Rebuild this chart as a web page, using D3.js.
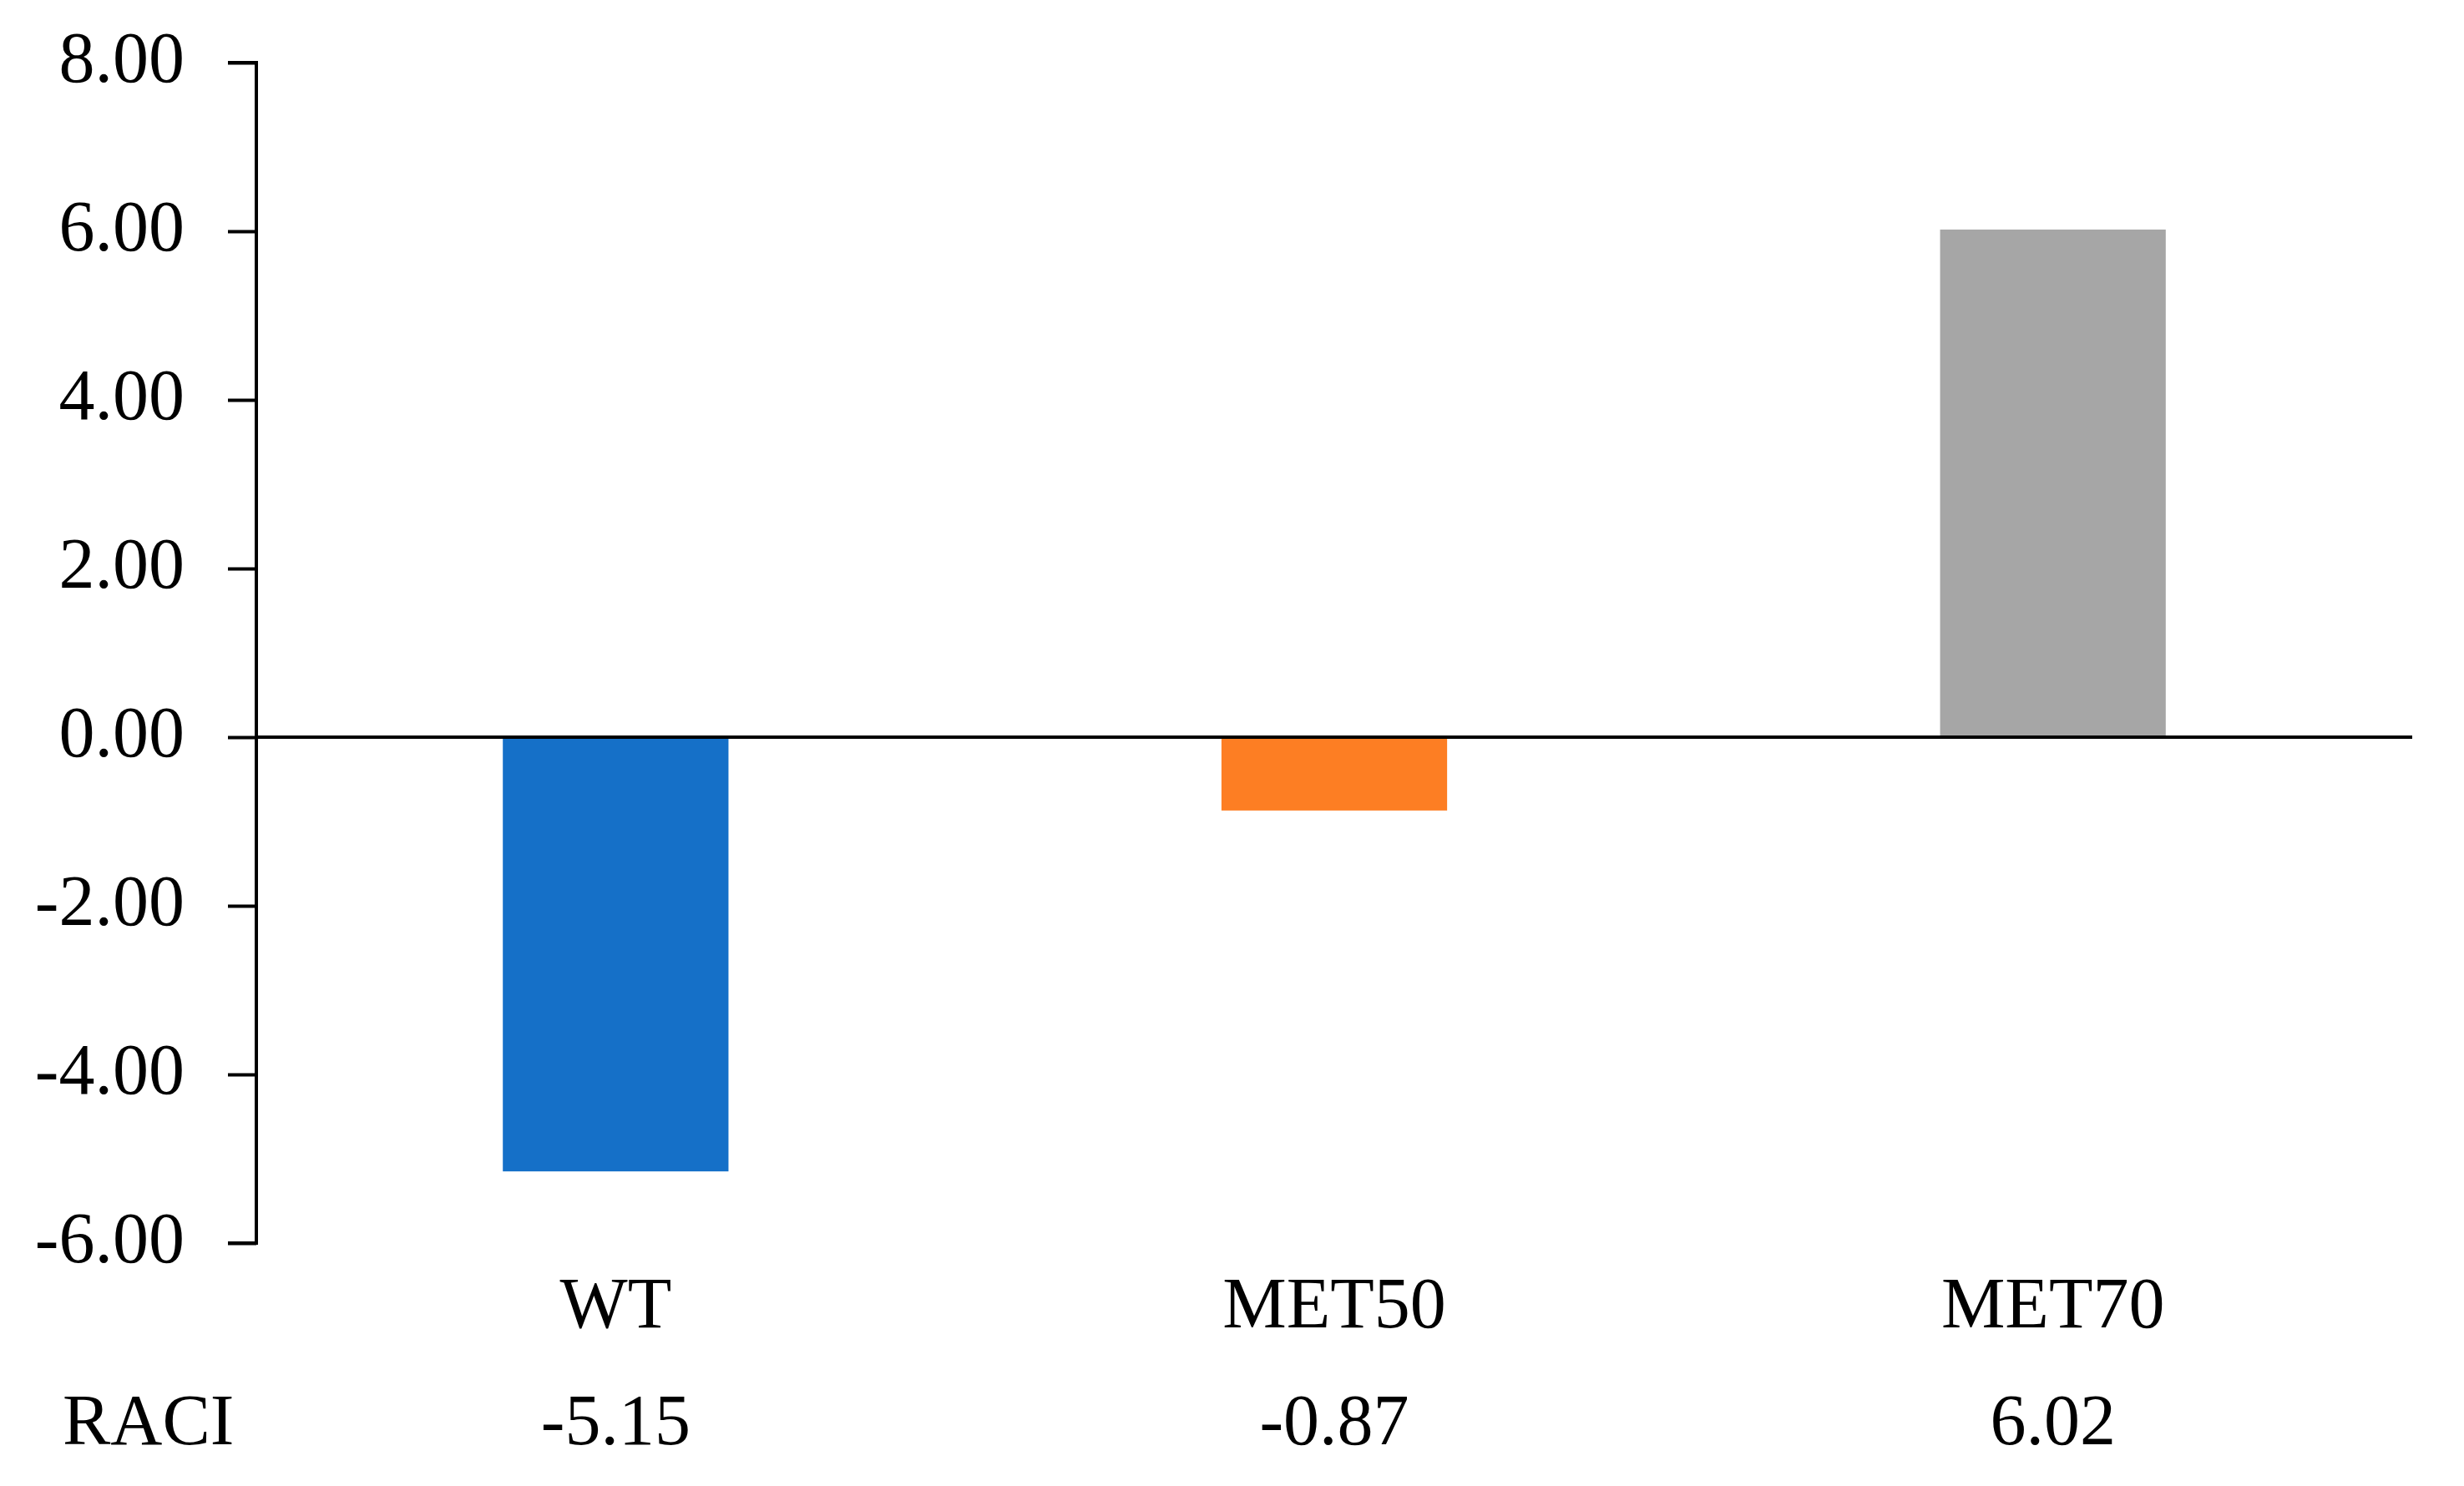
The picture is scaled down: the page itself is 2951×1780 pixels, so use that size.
<!DOCTYPE html>
<html>
<head>
<meta charset="utf-8">
<script src="https://cdn.jsdelivr.net/npm/d3@7"></script>
<style>
  html, body { margin: 0; padding: 0; background: #fff; }
  svg { display: block; }
  text { font-family: "Liberation Serif", "Times New Roman", serif; fill: #000; }
</style>
</head>
<body>
<svg id="chart" width="2951" height="1780"></svg>
<script>
const categories = ["WT", "MET50", "MET70"];
const values = [-5.15, -0.87, 6.02];
const raciLabels = ["-5.15", "-0.87", "6.02"];
const colors = ["#1570C8", "#FD7E23", "#A6A6A6"];
const yTicks = [-6, -4, -2, 0, 2, 4, 6, 8];
const rowLabel = "RACI";

const svg = d3.select("#chart");
const plotLeft = 307, plotRight = 2889, plotTop = 75, plotBottom = 1489;

const y = d3.scaleLinear().domain([-6, 8]).range([plotBottom, plotTop]);
const pad = 0.686;
const x = d3.scaleBand().domain(categories).range([plotLeft, plotRight])
  .paddingInner(pad).paddingOuter(pad / 2);

// bars
svg.append("g").selectAll("rect").data(values).join("rect")
  .attr("x", (d, i) => x(categories[i]))
  .attr("width", x.bandwidth())
  .attr("y", d => y(Math.max(0, d)))
  .attr("height", d => Math.abs(y(d) - y(0)))
  .attr("fill", (d, i) => colors[i]);

// y axis
const fmt = d3.formatLocale({decimal: ".", thousands: ",", grouping: [3], currency: ["", ""], minus: "-"}).format(".2f");
const yAxis = d3.axisLeft(y).tickValues(yTicks).tickSize(34).tickPadding(52)
  .tickFormat(fmt);
const gy = svg.append("g").attr("transform", `translate(${plotLeft},0)`).call(yAxis);
gy.select(".domain").attr("stroke", "#000").attr("stroke-width", 4)
  .attr("d", `M-34,${plotTop}H0V${plotBottom}H-34`);
gy.selectAll(".tick line").attr("stroke", "#000").attr("stroke-width", 4);
gy.selectAll(".tick text")
  .attr("font-size", 86)
  .attr("font-family", "Liberation Serif, serif")
  .attr("fill", "#000")
  .attr("dy", "0.26em");

// zero line
svg.append("line")
  .attr("x1", plotLeft).attr("x2", plotRight)
  .attr("y1", y(0)).attr("y2", y(0))
  .attr("stroke", "#000").attr("stroke-width", 4);

// category labels
svg.append("g").selectAll("text").data(categories).join("text")
  .attr("x", d => x(d) + x.bandwidth() / 2)
  .attr("y", 1590)
  .attr("text-anchor", "middle")
  .attr("font-size", 86)
  .text(d => d);

// RACI row
svg.append("text").attr("x", 75).attr("y", 1730).attr("font-size", 86).text(rowLabel);
svg.append("g").selectAll("text").data(raciLabels).join("text")
  .attr("x", (d, i) => x(categories[i]) + x.bandwidth() / 2)
  .attr("y", 1730)
  .attr("text-anchor", "middle")
  .attr("font-size", 86)
  .text(d => d);
</script>
</body>
</html>
